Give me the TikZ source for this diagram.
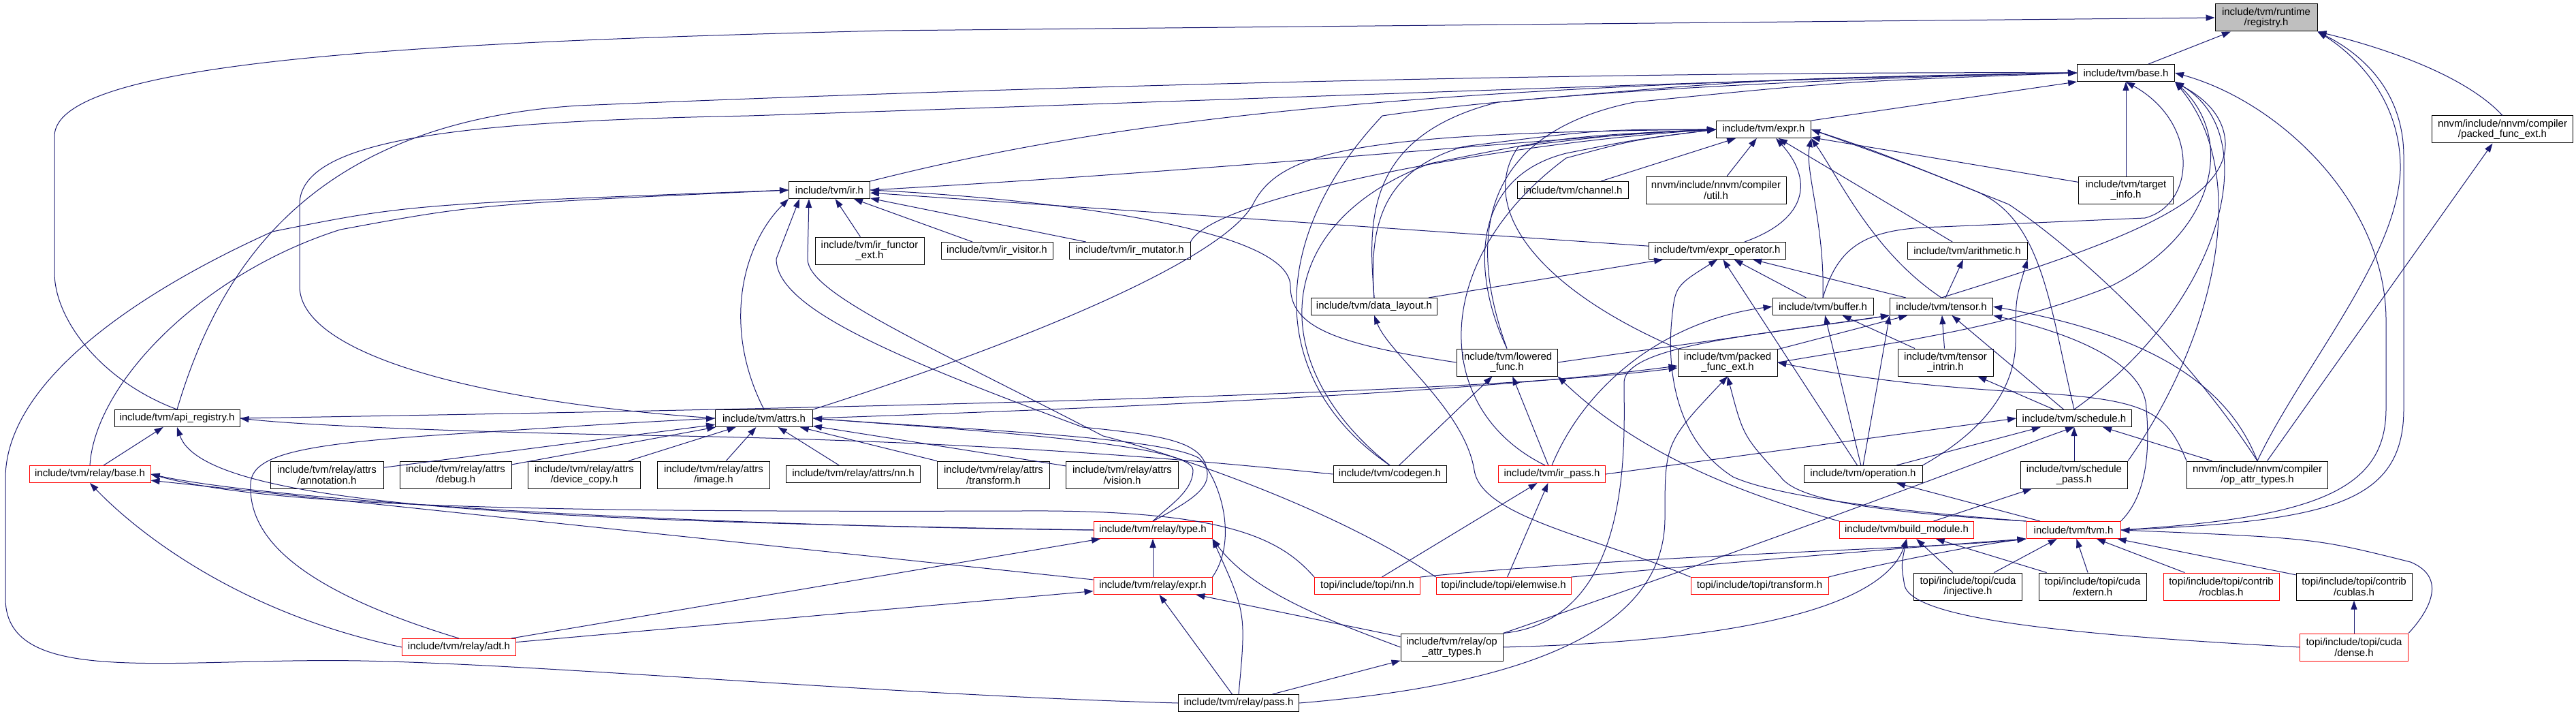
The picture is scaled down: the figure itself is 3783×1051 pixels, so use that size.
\documentclass[tikz,border=0pt]{standalone}
\usepackage{fontspec}
\setmainfont{Liberation Sans}
\usetikzlibrary{arrows.meta}
\definecolor{edgec}{HTML}{191970}
\definecolor{grayfill}{HTML}{BFBFBF}
\newcommand\dxfont{\fontsize{15pt}{15.3pt}\selectfont}
\tikzset{
  nd/.style={draw=black, fill=white, line width=1pt, inner sep=0pt, align=center, font=\dxfont},
  rd/.style={nd, draw=red},
  one/.style={minimum height=25pt},
  two/.style={minimum height=40pt},
  edg/.style={draw=edgec, line width=1pt, -{Triangle[length=13pt,width=9pt]}}
}
\begin{document}
\begin{tikzpicture}[x=1pt,y=-1pt]
\useasboundingbox (0,0) rectangle (3783,1051);
% nodes
\node[nd,two,fill=grayfill,minimum width=150pt] (registry) at (3328,26) {include/tvm/runtime\\/registry.h};
\node[nd,one,minimum width=143pt] (base) at (3122,107) {include/tvm/base.h};
\node[nd,two,minimum width=207pt] (nnvmpfe) at (3675,190) {nnvm/include/nnvm/compiler\\/packed\_func\_ext.h};
\node[nd,two,minimum width=139pt] (targetinfo) at (3122,279) {include/tvm/target\\\_info.h};
\node[nd,one,minimum width=139pt] (expr) at (2590,190) {include/tvm/expr.h};
\node[nd,one,minimum width=119pt] (ir) at (1218,279) {include/tvm/ir.h};
\node[nd,one,minimum width=163pt] (channel) at (2310,279) {include/tvm/channel.h};
\node[nd,two,minimum width=206pt] (util) at (2520,279) {nnvm/include/nnvm/compiler\\/util.h};
\node[nd,two,minimum width=160pt] (irfunctor) at (1277,368) {include/tvm/ir\_functor\\\_ext.h};
\node[nd,one,minimum width=164pt] (irvisitor) at (1464,368) {include/tvm/ir\_visitor.h};
\node[nd,one,minimum width=178pt] (irmutator) at (1659,368) {include/tvm/ir\_mutator.h};
\node[nd,one,minimum width=201pt] (exprop) at (2522,368) {include/tvm/expr\_operator.h};
\node[nd,one,minimum width=176pt] (arith) at (2889,368) {include/tvm/arithmetic.h};
\node[nd,one,minimum width=185pt] (datalayout) at (2018,450) {include/tvm/data\_layout.h};
\node[nd,one,minimum width=148pt] (buffer) at (2677,450) {include/tvm/buffer.h};
\node[nd,one,minimum width=151pt] (tensor) at (2851,450) {include/tvm/tensor.h};
\node[nd,two,minimum width=148pt] (lowered) at (2213,532) {include/tvm/lowered\\\_func.h};
\node[nd,two,minimum width=146pt] (pfetvm) at (2537,532) {include/tvm/packed\\\_func\_ext.h};
\node[nd,two,minimum width=140pt] (tintrin) at (2857,532) {include/tvm/tensor\\\_intrin.h};
\node[nd,one,minimum width=143pt] (attrs) at (1122,614) {include/tvm/attrs.h};
\node[nd,one,minimum width=184pt] (apireg) at (260,614) {include/tvm/api\_registry.h};
\node[nd,one,minimum width=169pt] (schedule) at (3046,614) {include/tvm/schedule.h};
\node[nd,two,minimum width=166pt] (annot) at (480,697) {include/tvm/relay/attrs\\/annotation.h};
\node[nd,two,minimum width=164pt] (debug) at (669,697) {include/tvm/relay/attrs\\/debug.h};
\node[nd,two,minimum width=165pt] (devcopy) at (858,697) {include/tvm/relay/attrs\\/device\_copy.h};
\node[nd,two,minimum width=165pt] (image) at (1048,697) {include/tvm/relay/attrs\\/image.h};
\node[nd,one,minimum width=197pt] (attrsnn) at (1253,696) {include/tvm/relay/attrs/nn.h};
\node[nd,two,minimum width=165pt] (transformattr) at (1459,697) {include/tvm/relay/attrs\\/transform.h};
\node[nd,two,minimum width=165pt] (vision) at (1648,697) {include/tvm/relay/attrs\\/vision.h};
\node[nd,one,minimum width=166pt] (codegen) at (2041,696) {include/tvm/codegen.h};
\node[rd,one,minimum width=157pt] (irpass) at (2279,696) {include/tvm/ir\_pass.h};
\node[nd,one,minimum width=174pt] (operation) at (2736,696) {include/tvm/operation.h};
\node[nd,two,minimum width=157pt] (schedpass) at (3046,697) {include/tvm/schedule\\\_pass.h};
\node[nd,two,minimum width=207pt] (nnvmop) at (3315,697) {nnvm/include/nnvm/compiler\\/op\_attr\_types.h};
\node[rd,one,minimum width=178pt] (relaybase) at (132,696) {include/tvm/relay/base.h};
\node[rd,one,minimum width=174pt] (relaytype) at (1693,778) {include/tvm/relay/type.h};
\node[rd,one,minimum width=197pt] (buildmod) at (2800,778) {include/tvm/build\_module.h};
\node[rd,one,minimum width=138pt] (tvm) at (3045,778) {include/tvm/tvm.h};
\node[rd,one,minimum width=155pt] (topinn) at (2008,860) {topi/include/topi/nn.h};
\node[rd,one,minimum width=198pt] (elemwise) at (2208,860) {topi/include/topi/elemwise.h};
\node[rd,one,minimum width=202pt] (topitransform) at (2584,860) {topi/include/topi/transform.h};
\node[rd,one,minimum width=174pt] (relayexpr) at (1693,860) {include/tvm/relay/expr.h};
\node[nd,two,minimum width=159pt] (injective) at (2890,861) {topi/include/topi/cuda\\/injective.h};
\node[nd,two,minimum width=158pt] (extern) at (3073,861) {topi/include/topi/cuda\\/extern.h};
\node[rd,two,minimum width=170pt] (rocblas) at (3262,861) {topi/include/topi/contrib\\/rocblas.h};
\node[nd,two,minimum width=170pt] (cublas) at (3457,861) {topi/include/topi/contrib\\/cublas.h};
\node[rd,one,minimum width=167pt] (adt) at (674,950) {include/tvm/relay/adt.h};
\node[nd,two,minimum width=150pt] (relayop) at (2132,950) {include/tvm/relay/op\\\_attr\_types.h};
\node[rd,two,minimum width=159pt] (dense) at (3457,950) {topi/include/topi/cuda\\/dense.h};
\node[nd,one,minimum width=177pt] (relaypass) at (1819,1032) {include/tvm/relay/pass.h};
% edges: registry
\draw[edg] (base) -- (registry);
\draw[edg] (apireg.north) .. controls (150,560) and (80,470) .. (80,400) -- (80,200) .. controls (80,90) and (600,62) .. (1300,45) -- (registry.west);
\draw[edg] (nnvmpfe.north) .. controls (3620,110) and (3500,70) .. (registry.south east);
\draw[edg] (tvm.east) .. controls (3420,765) and (3530,740) .. (3530,600) -- (3530,230) .. controls (3530,120) and (3450,70) .. (registry.south east);
\draw[edg] (nnvmop.north) .. controls (3380,540) and (3520,380) .. (3525,250) .. controls (3527,140) and (3450,75) .. (registry.south east);
% edges: base
\draw[edg] (expr.north east) -- (base.south west);
\draw[edg] (ir.north east) .. controls (1600,185) and (2000,125) .. (base.west);
\draw[edg] (apireg.north) .. controls (320,400) and (450,180) .. (850,155) .. controls (1800,115) and (2600,105) .. (base.west);
\draw[edg] (attrs.west) .. controls (700,590) and (440,520) .. (440,420) -- (440,300) .. controls (440,200) and (700,178) .. (1100,170) .. controls (2000,140) and (2700,112) .. (base.west);
\draw[edg] (targetinfo) -- (base);
\draw[edg] (datalayout.north) .. controls (2010,330) and (2000,200) .. (2200,150) .. controls (2600,115) .. (base.west);
\draw[edg] (lowered.north) .. controls (2165,380) and (2150,200) .. (2400,150) .. controls (2700,120) .. (base.west);
\draw[edg] (codegen.north) .. controls (1860,560) and (1860,350) .. (2030,170) .. controls (2300,130) and (2800,112) .. (base.west);
\draw[edg] (buffer.north) .. controls (2700,360) and (2740,335) .. (2850,333) -- (3150,320) .. controls (3225,300) and (3230,180) .. (base.south);
\draw[edg] (tensor.north) .. controls (3100,360) and (3270,300) .. (3268,210) .. controls (3266,160) and (3220,135) .. (base.south east);
\draw[edg] (pfetvm.east) .. controls (2800,500) and (2950,480) .. (3100,420) .. controls (3260,340) and (3280,200) .. (base.south east);
\draw[edg] (schedule.north) .. controls (3260,450) and (3330,200) .. (base.south east);
\draw[edg] (schedpass.north east) .. controls (3250,500) and (3310,260) .. (base.south east);
\draw[edg] (tvm.east) .. controls (3400,760) and (3504,720) .. (3504,600) -- (3504,470) .. controls (3504,300) and (3350,150) .. (base.east);
% edges: expr
\draw[edg] (ir.east) .. controls (1800,250) and (2300,200) .. (expr.west);
\draw[edg] (irmutator.north east) .. controls (1780,290) and (2200,210) .. (expr.west);
\draw[edg] (attrs.north east) .. controls (1450,520) and (1790,390) .. (1840,300) .. controls (1880,220) and (2000,195) .. (expr.west);
\draw[edg] (channel) -- (expr);
\draw[edg] (util) -- (expr);
\draw[edg] ([xshift=40pt]exprop.north) .. controls (2660,320) and (2660,260) .. ([xshift=18pt]expr.south);
\draw[edg] (arith) -- (expr);
\draw[edg] (targetinfo) -- (expr);
\draw[edg] (datalayout.north) .. controls (2010,330) and (2030,250) .. (2150,215) .. controls (2350,190) .. (expr.west);
\draw[edg] (buffer.north) .. controls (2680,330) and (2650,250) .. (expr.south east);
\draw[edg] (tensor.north) .. controls (2750,370) and (2700,260) .. (expr.south east);
\draw[edg] (lowered.north) .. controls (2160,400) and (2160,260) .. (2300,225) .. controls (2400,205) .. (expr.west);
\draw[edg] (pfetvm.north west) .. controls (2250,420) and (2170,300) .. (2230,215) .. controls (2400,195) .. (expr.west);
\draw[edg] (schedule.north) .. controls (3010,450) and (3000,320) .. (2900,280) .. controls (2750,220) .. (expr.east);
\draw[edg] (codegen.north) .. controls (1860,540) and (1860,330) .. (2100,240) .. controls (2300,200) .. (expr.west);
\draw[edg] ([xshift=-10pt]irpass.north) .. controls (2100,600) and (2100,380) .. (2300,232) .. controls (2400,205) .. (expr.west);
\draw[edg] (nnvmop.north) .. controls (3200,500) and (3040,360) .. (2950,300) .. controls (2800,240) .. (expr.east);
% edges: ir
\draw[edg] (irfunctor) -- (ir);
\draw[edg] (irvisitor) -- (ir);
\draw[edg] (irmutator) -- (ir);
\draw[edg] (exprop) -- (ir);
\draw[edg] (attrs.north) .. controls (1060,480) and (1090,360) .. (ir.south west);
\draw[edg] (lowered.west) .. controls (1960,505) and (1895,480) .. (1895,420) .. controls (1895,330) and (1500,290) .. (ir.east);
\draw[edg] (relaybase.north) .. controls (140,560) and (300,400) .. (500,337) .. controls (700,300) .. (ir.west);
\draw[edg] (relaytype.north) .. controls (1740,740) and (1775,720) .. (1773,695) .. controls (1770,650) and (1720,640) .. (1590,627) .. controls (1300,520) and (1140,450) .. (1140,380) -- ([xshift=16pt]ir.south west);
\draw[edg] (elemwise.north west) .. controls (1950,740) and (1700,660) .. (1620,640) .. controls (1350,500) and (1186,430) .. (1186,380) -- ([xshift=30pt]ir.south west);
\draw[edg] (relaypass.west) .. controls (1300,1020) and (800,975) .. (530,970) .. controls (250,965) and (10,1010) .. (8,880) -- (8,700) .. controls (10,560) and (200,430) .. (400,340) .. controls (600,300) .. (ir.west);
% edges: middle layers
\draw[edg] (datalayout) -- (exprop);
\draw[edg] (buffer) -- (exprop);
\draw[edg] (tensor) -- (exprop);
\draw[edg] (tensor) -- (arith);
\draw[edg] (lowered.east) -- (tensor.south west);
\draw[edg] (pfetvm) -- (tensor);
\draw[edg] (tintrin) -- (tensor);
\draw[edg] (tintrin) -- (buffer);
\draw[edg] (attrs.east) .. controls (1600,600) and (2150,578) .. ([yshift=-5pt]pfetvm.west);
\draw[edg] (apireg.east) .. controls (1200,600) and (2150,580) .. ([yshift=-8pt]pfetvm.west);
\draw[edg] (schedule) -- (tensor);
\draw[edg] (schedule) -- (tintrin);
\draw[edg] (annot) -- (attrs);
\draw[edg] (debug) -- (attrs);
\draw[edg] (devcopy) -- (attrs);
\draw[edg] (image) -- (attrs);
\draw[edg] (attrsnn) -- (attrs);
\draw[edg] (transformattr) -- (attrs);
\draw[edg] (vision) -- (attrs);
\draw[edg] (codegen) -- (lowered);
\draw[edg] (codegen.west) .. controls (1800,680) and (1500,650) .. (1000,640) .. controls (700,635) and (450,625) .. (apireg.east);
\draw[edg] (irpass.north) .. controls (2330,560) and (2450,470) .. (buffer.west);
\draw[edg] (irpass) -- (lowered);
\draw[edg] (irpass.east) -- (schedule.west);
\draw[edg] (operation.north east) .. controls (2900,640) and (2960,580) .. (2960,500) .. controls (2960,440) .. (arith.south east);
\draw[edg] (operation) -- (exprop);
\draw[edg] (operation.north) -- (tensor.south west);
\draw[edg] (operation) -- (buffer);
\draw[edg] (operation) -- (schedule);
\draw[edg] (schedpass) -- (schedule);
\draw[edg] (nnvmop.north) .. controls (3270,560) and (3150,490) .. (tensor.east);
\draw[edg] (nnvmop) -- (schedule);
\draw[edg] (nnvmop) -- (nnvmpfe);
\draw[edg] (nnvmop.north west) .. controls (3180,600) and (3150,585) .. (2960,575) .. controls (2800,565) and (2700,550) .. (pfetvm.east);
% edges: relay
\draw[edg] (relaybase) -- (apireg);
\draw[edg] (relaytype.west) .. controls (800,765) and (300,745) .. (apireg.south);
\draw[edg] (relaytype.west) .. controls (1000,772) and (400,735) .. (relaybase.east);
\draw[edg] (relaytype.north) .. controls (1720,740) and (1752,720) .. (1752,690) .. controls (1752,650) and (1400,630) .. (attrs.east);
\draw[edg] (relayexpr) -- (relaybase);
\draw[edg] (relayexpr) -- (relaytype);
\draw[edg] (relayexpr.north east) .. controls (1820,790) and (1790,700) .. (1760,672) .. controls (1700,640) and (1400,630) .. (attrs.east);
\draw[edg] (adt.north) .. controls (420,860) and (365,780) .. (368,710) .. controls (370,665) and (450,650) .. (700,635) .. controls (900,622) .. (attrs.west);
\draw[edg] (adt.west) .. controls (350,900) and (200,780) .. (relaybase.south);
\draw[edg] (adt) -- (relaytype);
\draw[edg] (adt) -- (relayexpr);
\draw[edg] (relayop.west) .. controls (1950,910) and (1840,870) .. (relaytype.south east);
\draw[edg] (relayop) -- (relayexpr);
\draw[edg] (relayop.north east) .. controls (2400,910) and (2385,650) .. (2385,560) .. controls (2390,505) and (2600,490) .. (tensor.south west);
\draw[edg] (relayop.north east) .. controls (2700,760) and (2950,660) .. (schedule.south);
\draw[edg] (relayop.east) .. controls (2600,940) and (2770,880) .. (buildmod.south);
\draw[edg] (relaypass.east) .. controls (2300,1000) and (2445,900) .. (2445,760) .. controls (2445,650) .. (pfetvm.south);
\draw[edg] (relaypass.north) .. controls (1830,900) .. (relaytype.south east);
\draw[edg] (relaypass) -- (relayexpr);
\draw[edg] (relaypass) -- (relayop);
% edges: build, tvm, topi
\draw[edg] (buildmod.north west) .. controls (2540,720) and (2400,660) .. (lowered.south east);
\draw[edg] (buildmod) -- (schedpass);
\draw[edg] (tvm) -- (operation);
\draw[edg] (tvm.north west) .. controls (2750,748) and (2600,725) .. (2545,700) .. controls (2450,640) and (2450,520) .. (2455,470) .. controls (2460,420) .. (exprop.south);
\draw[edg] (tvm.north west) .. controls (2760,752) and (2640,735) .. (2615,700) .. controls (2560,640) .. (pfetvm.south);
\draw[edg] (tvm.north east) .. controls (3150,730) and (3158,670) .. (3152,600) .. controls (3150,520) and (3000,480) .. (tensor.south east);
\draw[edg] (topinn) -- (irpass);
\draw[edg] (topinn.north east) .. controls (2400,815) and (2850,805) .. (tvm.south west);
\draw[edg] (topinn.north west) .. controls (1880,790) and (1800,748) .. (1500,750) .. controls (800,752) and (400,745) .. (relaybase.east);
\draw[edg] (elemwise) -- (irpass);
\draw[edg] (elemwise.north east) .. controls (2600,820) and (2850,800) .. (tvm.south west);
\draw[edg] (topitransform.north east) .. controls (2750,830) and (2900,800) .. (tvm.south west);
\draw[edg] (topitransform.north west) .. controls (2350,790) and (2175,760) .. (2165,690) .. controls (2150,600) and (2040,520) .. (datalayout.south);
\draw[edg] (injective) -- (tvm);
\draw[edg] (injective) -- (buildmod);
\draw[edg] (extern) -- (tvm);
\draw[edg] (extern) -- (buildmod);
\draw[edg] (rocblas) -- (tvm);
\draw[edg] (cublas) -- (tvm);
\draw[edg] (dense) -- (cublas);
\draw[edg] (dense.north east) .. controls (3560,905) and (3600,850) .. (3540,825) .. controls (3400,790) .. (tvm.east);
\draw[edg] (dense.west) .. controls (3000,930) and (2810,905) .. (2797,860) .. controls (2792,830) .. (buildmod.south);
\end{tikzpicture}
\end{document}
